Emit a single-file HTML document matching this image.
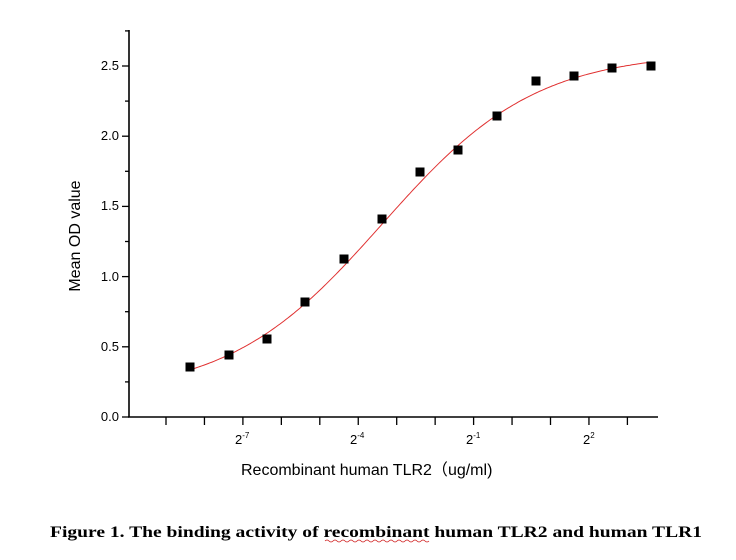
<!DOCTYPE html>
<html><head><meta charset="utf-8"><style>
html,body{margin:0;padding:0;background:#fff;width:736px;height:560px;overflow:hidden}
svg text{font-family:"Liberation Sans",Arial,sans-serif}
</style></head><body>
<svg id="s" width="736" height="560" xmlns="http://www.w3.org/2000/svg">
<g stroke="#000" stroke-width="1.6" fill="none">
<line x1="129" y1="30" x2="129" y2="417"/>
<line x1="128" y1="417" x2="658" y2="417"/>
</g>
<g id="ticks" stroke="#000" stroke-width="1.3"></g>
<g font-size="13" fill="#000" text-anchor="end">
<text x="119" y="421">0.0</text>
<text x="119" y="351">0.5</text>
<text x="119" y="281">1.0</text>
<text x="119" y="210">1.5</text>
<text x="119" y="140">2.0</text>
<text x="119" y="70">2.5</text>
</g>
<g font-size="13" fill="#000">
<text x="235" y="444">2<tspan font-size="8" dy="-6">-7</tspan></text>
<text x="350" y="444">2<tspan font-size="8" dy="-6">-4</tspan></text>
<text x="466" y="444">2<tspan font-size="8" dy="-6">-1</tspan></text>
<text x="583" y="444">2<tspan font-size="8" dy="-6">2</tspan></text>
</g>
<text x="241" y="475" font-size="16">Recombinant human TLR2<tspan style="font-family:'Noto Sans CJK SC',sans-serif">（</tspan>ug/ml)</text>
<text transform="translate(80,236) rotate(-90)" font-size="16" text-anchor="middle">Mean OD value</text>
<path id="curve" stroke="#e03030" stroke-width="1" fill="none"/>
<g id="pts" fill="#000"></g>
<text x="376" y="537" text-anchor="middle" style="font-family:'Liberation Serif',serif;font-weight:bold;font-size:16px" textLength="652" lengthAdjust="spacingAndGlyphs">Figure 1. The binding activity of recombinant human TLR2 and human TLR1</text>
<path d="M325 541 q2 -2 4 0 t4 0 t4 0 t4 0 t4 0 t4 0 t4 0 t4 0 t4 0 t4 0 t4 0 t4 0 t4 0 t4 0 t4 0 t4 0 t4 0 t4 0 t4 0 t4 0 t4 0 t4 0 t4 0 t4 0 t4 0 t4 0" stroke="#d02020" stroke-width="0.8" fill="none"/>
</svg>
<script>
var ns="http://www.w3.org/2000/svg",t=document.getElementById("ticks");
function ln(a,b,c,d){var l=document.createElementNS(ns,"line");l.setAttribute("x1",a);l.setAttribute("y1",b);l.setAttribute("x2",c);l.setAttribute("y2",d);t.appendChild(l);}
for(var i=0;i<=11;i++){var v=i*0.25,y=417-v*140.4;ln(129,y,i%2==0?122:125,y);}
for(var i=0;i<13;i++){var x=166+i*38.45;ln(x,417,x,425);}
var d="";for(var x=190;x<=651;x+=2){var u=(x-190)/38.45;var v=0.15+2.45/(1+Math.exp(-0.5*(u-5)));d+=(x==190?"M":"L")+x+" "+(417-v*140.4).toFixed(1);}
document.getElementById("curve").setAttribute("d",d);
var P=[[190,367],[229,355],[267,339],[305,302],[344,259],[382,219],[420,172],[458,150],[497,116],[536,81],[574,76],[612,68],[651,66]],g=document.getElementById("pts");
P.forEach(function(p){var r=document.createElementNS(ns,"rect");r.setAttribute("x",p[0]-4.5);r.setAttribute("y",p[1]-4.5);r.setAttribute("width",9);r.setAttribute("height",9);g.appendChild(r);});
</script>
</body></html>
